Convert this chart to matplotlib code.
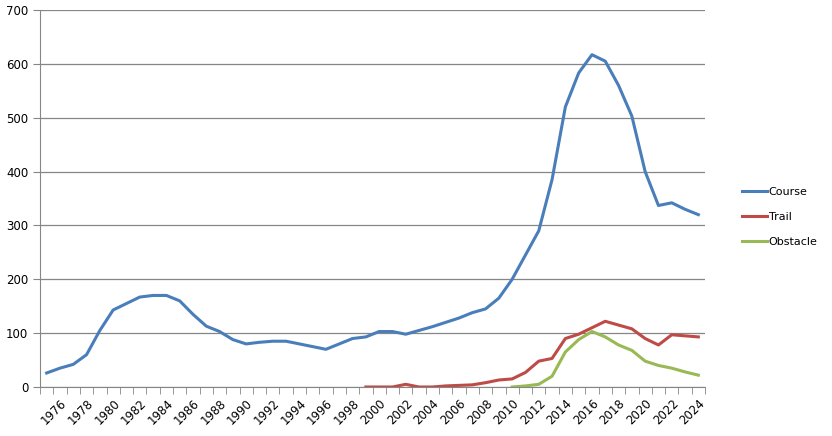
import numpy as np
import matplotlib.pyplot as plt

years = list(range(1975, 2025))

course = [26, 35, 42, 60, 105, 143, 155, 167, 170, 170,
          160, 135, 113, 103, 88, 80, 83, 85, 85, 80,
          75, 70, 80, 90, 93, 103, 103, 98, 105, 112,
          120, 128, 138, 145, 165, 200, 245, 290, 385, 520,
          583, 617, 605, 560, 503, 400, 337, 342, 330, 320]

trail_years = list(range(1999, 2025))
trail = [0, 0, 0, 5, 0, 0, 2, 3, 4, 8,
         13, 15, 27, 48, 53, 90, 98, 110, 122, 115,
         108, 90, 78, 97, 95, 93]

obstacle_years = list(range(2010, 2025))
obstacle = [0, 2, 5, 20, 65, 88, 103, 93, 78, 68, 48, 40, 35, 28, 22]

fig = plt.figure(figsize=(8.32, 4.36), dpi=100)
ax = fig.add_axes([40 / 832, 1 - 387 / 436, 665 / 832, 377 / 436])

x0 = years[0]
ax.plot([y - x0 for y in years], course, color='#4A7EBB', lw=2.2, label='Course')
ax.plot([y - x0 for y in trail_years], trail, color='#BE4B48', lw=2.2, label='Trail')
ax.plot([y - x0 for y in obstacle_years], obstacle, color='#98B954', lw=2.2, label='Obstacle')

ax.set_xlim(-0.5, len(years) - 0.5)
ax.set_ylim(0, 700)
ax.set_yticks(range(0, 701, 100))
ax.yaxis.grid(True, color='#868686', lw=0.9)
ax.set_axisbelow(True)

label_idx = [i for i, y in enumerate(years) if y % 2 == 0]
ax.set_xticks(label_idx)
ax.set_xticklabels([str(years[i]) for i in label_idx], rotation=45,
                   ha='right', rotation_mode='anchor', fontsize=8.5)
ax.set_xticks(np.arange(-0.5, len(years)), minor=True)
ax.tick_params(axis='x', which='major', length=0, pad=7)
ax.tick_params(axis='x', which='minor', length=5, color='#868686')
ax.tick_params(axis='y', length=5, color='#868686', labelsize=8.5)

for s in ['top', 'right']:
    ax.spines[s].set_visible(False)
for s in ['left', 'bottom']:
    ax.spines[s].set_color('#868686')

ax.legend(loc='center left', bbox_to_anchor=(1.04, 0.45), frameon=False,
          fontsize=8, handlelength=2.3, handletextpad=0.15, labelspacing=1.35)

fig.savefig('out.png', dpi=100)
